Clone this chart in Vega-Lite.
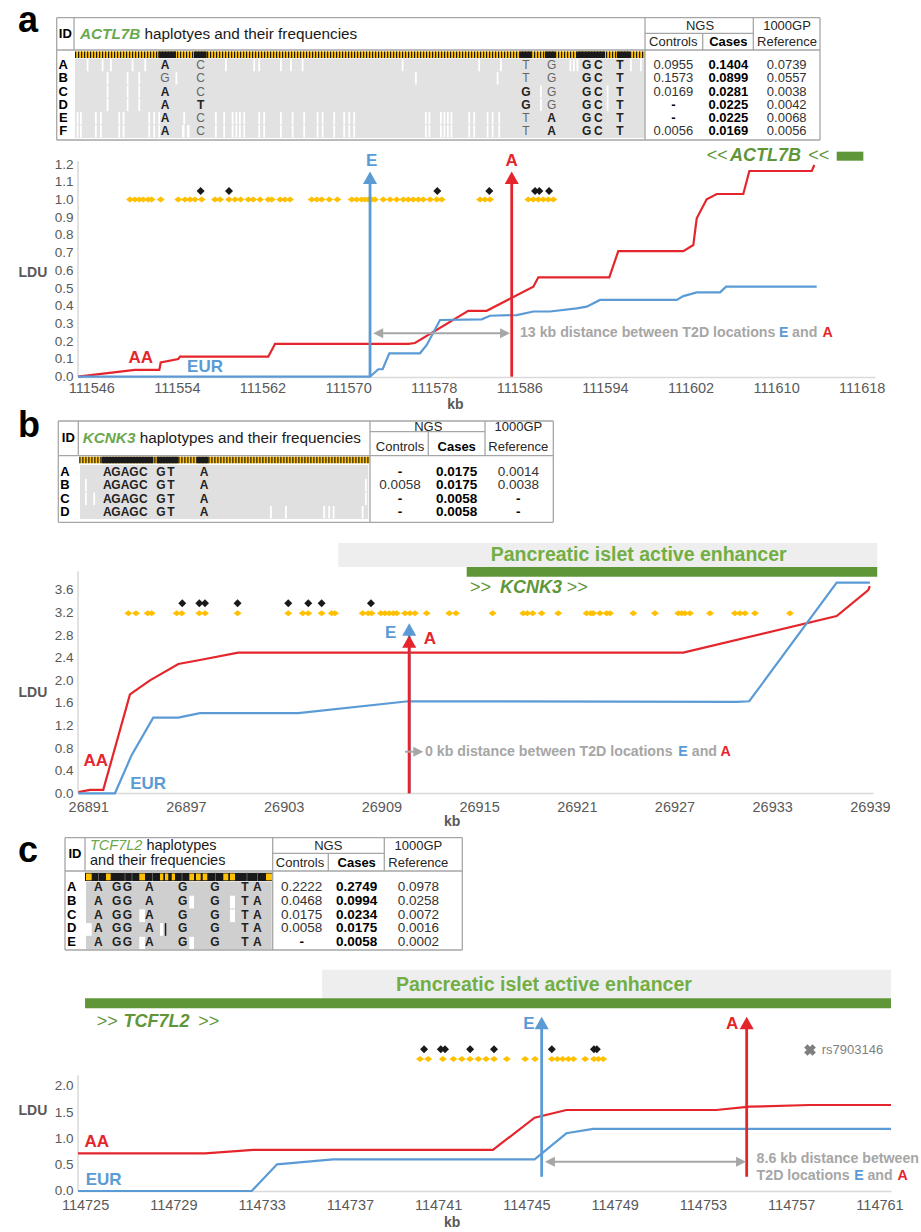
{
"$schema":"https://vega.github.io/schema/vega-lite/v6.json",
"background":"white",
"padding":{"left":18,"top":0,"right":0,"bottom":0},
"config":{"view":{"stroke":null},"font":"Liberation Sans","axis":{"grid":false,"labelFont":"Liberation Sans","titleFont":"Liberation Sans"}},
"columns":1,
"align":"none",
"bounds":"full",
"spacing":-5,
"concat":[
{
"width":810,"height":148,
"encoding":{"x":{"field":"x","type":"quantitative","scale":{"domain":[78,888],"nice":false,"zero":false},"axis":null},"y":{"field":"y","type":"quantitative","scale":{"domain":[0,148],"nice":false,"zero":false,"reverse":true},"axis":null}},
"layer":[
{"data":{"name":"tA_rect"},"transform":[{"filter":"datum.k=='gray'"}],"mark":{"type":"rect","color":"#e2e2e2"},"encoding":{"x2":{"field":"x2"},"y2":{"field":"y2"}}},
{"data":{"name":"tA_rect"},"transform":[{"filter":"datum.k=='w'"}],"mark":{"type":"rect","color":"#ffffff"},"encoding":{"x2":{"field":"x2"},"y2":{"field":"y2"}}},
{"data":{"name":"tA_rect"},"transform":[{"filter":"datum.k=='or'"}],"mark":{"type":"rect","color":"#ffc000"},"encoding":{"x2":{"field":"x2"},"y2":{"field":"y2"}}},
{"data":{"name":"tA_rule"},"transform":[{"filter":"datum.k=='dash'"}],"mark":{"type":"rule","color":"#1a1a1a","strokeWidth":6.5,"strokeDash":[1.2,1.8]},"encoding":{"x2":{"field":"x2"},"y2":{"field":"y2"}}},
{"data":{"name":"tA_rect"},"transform":[{"filter":"datum.k=='bk'"}],"mark":{"type":"rect","color":"#1a1a1a"},"encoding":{"x2":{"field":"x2"},"y2":{"field":"y2"}}},
{"data":{"name":"tA_rule"},"transform":[{"filter":"datum.k=='b'"}],"mark":{"type":"rule","color":"#a6a6a6","strokeWidth":1.3},"encoding":{"x2":{"field":"x2"},"y2":{"field":"y2"}}},
{"data":{"name":"tA_text"},"transform":[{"filter":"datum.k=='letter'"}],"mark":{"type":"text","fontSize":36,"fontWeight":"bold","align":"left","baseline":"alphabetic","color":"#000000"},"encoding":{"text":{"field":"t"}}},
{"data":{"name":"tA_text"},"transform":[{"filter":"datum.k=='gene'"}],"mark":{"type":"text","fontSize":15.3,"fontWeight":"bold","fontStyle":"italic","align":"left","color":"#6aa84f"},"encoding":{"text":{"field":"t"}}},
{"data":{"name":"tA_text"},"transform":[{"filter":"datum.k=='title'"}],"mark":{"type":"text","fontSize":15.3,"align":"left","color":"#1a1a1a"},"encoding":{"text":{"field":"t"}}},
{"data":{"name":"tA_text"},"transform":[{"filter":"datum.k=='r13'"}],"mark":{"type":"text","fontSize":13,"color":"#262626"},"encoding":{"text":{"field":"t"}}},
{"data":{"name":"tA_text"},"transform":[{"filter":"datum.k=='b13'"}],"mark":{"type":"text","fontSize":13,"fontWeight":"bold","color":"#000000"},"encoding":{"text":{"field":"t"}}},
{"data":{"name":"tA_text"},"transform":[{"filter":"datum.k=='row'"}],"mark":{"type":"text","fontSize":13,"fontWeight":"bold","color":"#000000"},"encoding":{"text":{"field":"t"}}},
{"data":{"name":"tA_text"},"transform":[{"filter":"datum.k=='r135'"}],"mark":{"type":"text","fontSize":13,"color":"#333333"},"encoding":{"text":{"field":"t"}}},
{"data":{"name":"tA_text"},"transform":[{"filter":"datum.k=='b135'"}],"mark":{"type":"text","fontSize":13,"fontWeight":"bold","color":"#000000"},"encoding":{"text":{"field":"t"}}},
{"data":{"name":"tA_text"},"transform":[{"filter":"datum.k=='ab'"}],"mark":{"type":"text","fontSize":12,"fontWeight":"bold","color":"#222222"},"encoding":{"text":{"field":"t"}}},
{"data":{"name":"tA_text"},"transform":[{"filter":"datum.k=='ar'"}],"mark":{"type":"text","fontSize":12,"color":"#666666"},"encoding":{"text":{"field":"t"}}}
]
},
{
"width":797,"height":270,
"encoding":{
"x":{"field":"kb","type":"quantitative","scale":{"domain":[111544.76,111619.24],"nice":false,"zero":false},"axis":{"values":[111546,111554,111562,111570,111578,111586,111594,111602,111610,111618],"format":"d","offset":-36,"ticks":false,"domainColor":"#d9d9d9","domainWidth":1.5,"labelPadding":4,"labelFontSize":14.5,"labelColor":"#595959","labelFlush":false,"labelOverlap":false,"title":"kb","titleFontSize":14,"titleFontWeight":"bold","titleColor":"#595959","titlePadding":2.5,"titleX":377}},
"y":{"field":"v","type":"quantitative","scale":{"domain":[-0.2049,1.3189],"nice":false,"zero":false},"axis":{"values":[0,0.1,0.2,0.3,0.4,0.5,0.6,0.7,0.8,0.9,1.0,1.1,1.2],"format":".1f","domain":false,"ticks":false,"labelPadding":5,"labelFontSize":13.5,"labelColor":"#595959","labelOverlap":false,"title":"LDU","titleAngle":0,"titleAlign":"left","titleBaseline":"middle","titleX":-60,"titleY":129,"titleFontSize":14,"titleFontWeight":"bold","titleColor":"#595959"}}
},
"layer":[
{"data":{"name":"cA_rect"},"transform":[{"filter":"datum.k=='bar'"}],"mark":{"type":"rect","color":"#5f9638"},"encoding":{"x2":{"field":"kb2"},"y2":{"field":"v2"}}},
{"data":{"name":"cA_vr"},"transform":[{"filter":"datum.k=='axis'"}],"mark":{"type":"rule","color":"#d9d9d9","strokeWidth":1.5},"encoding":{"y2":{"field":"v2"}}},
{"data":{"name":"cA_line"},"transform":[{"filter":"datum.s=='AA'"}],"mark":{"type":"line","color":"#e4262c","strokeWidth":2.2},"encoding":{}},
{"data":{"name":"cA_line"},"transform":[{"filter":"datum.s=='EUR'"}],"mark":{"type":"line","color":"#5b9bd5","strokeWidth":2.2},"encoding":{}},
{"data":{"name":"cA_o"},"mark":{"type":"point","shape":"M-1,0L0,-0.75L1,0L0,0.75Z","filled":true,"size":64,"color":"#ffc000","opacity":1},"encoding":{}},
{"data":{"name":"cA_b"},"mark":{"type":"point","shape":"M-1,0L0,-1L1,0L0,1Z","filled":true,"size":64,"color":"#1a1a1a","opacity":1},"encoding":{}},
{"data":{"name":"cA_vr"},"transform":[{"filter":"datum.k=='E'"}],"mark":{"type":"rule","color":"#5b9bd5","strokeWidth":2.8},"encoding":{"y2":{"field":"v2"}}},
{"data":{"name":"cA_vr"},"transform":[{"filter":"datum.k=='A'"}],"mark":{"type":"rule","color":"#e4262c","strokeWidth":2.8},"encoding":{"y2":{"field":"v2"}}},
{"data":{"name":"cA_hd"},"transform":[{"filter":"datum.k=='E'"}],"mark":{"type":"point","shape":"M0,-1L0.9,0.6L-0.9,0.6Z","filled":true,"size":243,"color":"#5b9bd5","opacity":1},"encoding":{}},
{"data":{"name":"cA_hd"},"transform":[{"filter":"datum.k=='A'"}],"mark":{"type":"point","shape":"M0,-1L0.9,0.6L-0.9,0.6Z","filled":true,"size":243,"color":"#e4262c","opacity":1},"encoding":{}},
{"data":{"name":"cA_hr"},"mark":{"type":"rule","color":"#a6a6a6","strokeWidth":2},"encoding":{"x2":{"field":"kb2"}}},
{"data":{"name":"cA_hd"},"transform":[{"filter":"datum.k=='L'"}],"mark":{"type":"point","shape":"M-1,0L0.6,-0.8L0.6,0.8Z","filled":true,"size":156,"color":"#a6a6a6","opacity":1},"encoding":{}},
{"data":{"name":"cA_hd"},"transform":[{"filter":"datum.k=='R'"}],"mark":{"type":"point","shape":"M1,0L-0.6,-0.8L-0.6,0.8Z","filled":true,"size":156,"color":"#a6a6a6","opacity":1},"encoding":{}},
{"data":{"name":"cA_text"},"transform":[{"filter":"datum.k=='gene'"}],"mark":{"type":"text","fontSize":18,"fontWeight":"bold","fontStyle":"italic","align":"left","color":"#5f9638"},"encoding":{"text":{"field":"t"}}},
{"data":{"name":"cA_text"},"transform":[{"filter":"datum.k=='geneArr'"}],"mark":{"type":"text","fontSize":18,"align":"left","color":"#5f9638"},"encoding":{"text":{"field":"t"}}},
{"data":{"name":"cA_text"},"transform":[{"filter":"datum.k=='lblR'"}],"mark":{"type":"text","fontSize":17,"fontWeight":"bold","color":"#e4262c"},"encoding":{"text":{"field":"t"}}},
{"data":{"name":"cA_text"},"transform":[{"filter":"datum.k=='lblB'"}],"mark":{"type":"text","fontSize":17,"fontWeight":"bold","color":"#5b9bd5"},"encoding":{"text":{"field":"t"}}},
{"data":{"name":"cA_text"},"transform":[{"filter":"datum.k=='g'"}],"mark":{"type":"text","fontSize":14.2,"fontWeight":"bold","align":"left","color":"#a6a6a6"},"encoding":{"text":{"field":"t"}}},
{"data":{"name":"cA_text"},"transform":[{"filter":"datum.k=='gB'"}],"mark":{"type":"text","fontSize":14.2,"fontWeight":"bold","align":"left","color":"#5b9bd5"},"encoding":{"text":{"field":"t"}}},
{"data":{"name":"cA_text"},"transform":[{"filter":"datum.k=='gR'"}],"mark":{"type":"text","fontSize":14.2,"fontWeight":"bold","align":"left","color":"#e4262c"},"encoding":{"text":{"field":"t"}}}
]
},
{
"width":810,"height":122,
"encoding":{"x":{"field":"x","type":"quantitative","scale":{"domain":[78,888],"nice":false,"zero":false},"axis":null},"y":{"field":"y","type":"quantitative","scale":{"domain":[408,530],"nice":false,"zero":false,"reverse":true},"axis":null}},
"layer":[
{"data":{"name":"tB_rect"},"transform":[{"filter":"datum.k=='gray'"}],"mark":{"type":"rect","color":"#e0e0e0"},"encoding":{"x2":{"field":"x2"},"y2":{"field":"y2"}}},
{"data":{"name":"tB_rect"},"transform":[{"filter":"datum.k=='w'"}],"mark":{"type":"rect","color":"#ffffff"},"encoding":{"x2":{"field":"x2"},"y2":{"field":"y2"}}},
{"data":{"name":"tB_rect"},"transform":[{"filter":"datum.k=='or'"}],"mark":{"type":"rect","color":"#ffc000"},"encoding":{"x2":{"field":"x2"},"y2":{"field":"y2"}}},
{"data":{"name":"tB_rule"},"transform":[{"filter":"datum.k=='dash'"}],"mark":{"type":"rule","color":"#1a1a1a","strokeWidth":6.6,"strokeDash":[1.2,1.8]},"encoding":{"x2":{"field":"x2"},"y2":{"field":"y2"}}},
{"data":{"name":"tB_rect"},"transform":[{"filter":"datum.k=='bk'"}],"mark":{"type":"rect","color":"#1a1a1a"},"encoding":{"x2":{"field":"x2"},"y2":{"field":"y2"}}},
{"data":{"name":"tB_rule"},"transform":[{"filter":"datum.k=='b'"}],"mark":{"type":"rule","color":"#a6a6a6","strokeWidth":1.3},"encoding":{"x2":{"field":"x2"},"y2":{"field":"y2"}}},
{"data":{"name":"tB_text"},"transform":[{"filter":"datum.k=='letter'"}],"mark":{"type":"text","fontSize":36,"fontWeight":"bold","align":"left","baseline":"alphabetic","color":"#000000"},"encoding":{"text":{"field":"t"}}},
{"data":{"name":"tB_text"},"transform":[{"filter":"datum.k=='gene'"}],"mark":{"type":"text","fontSize":15.3,"fontWeight":"bold","fontStyle":"italic","align":"left","color":"#6aa84f"},"encoding":{"text":{"field":"t"}}},
{"data":{"name":"tB_text"},"transform":[{"filter":"datum.k=='title'"}],"mark":{"type":"text","fontSize":15.3,"align":"left","color":"#1a1a1a"},"encoding":{"text":{"field":"t"}}},
{"data":{"name":"tB_text"},"transform":[{"filter":"datum.k=='r13'"}],"mark":{"type":"text","fontSize":13,"color":"#262626"},"encoding":{"text":{"field":"t"}}},
{"data":{"name":"tB_text"},"transform":[{"filter":"datum.k=='b13'"}],"mark":{"type":"text","fontSize":13,"fontWeight":"bold","color":"#000000"},"encoding":{"text":{"field":"t"}}},
{"data":{"name":"tB_text"},"transform":[{"filter":"datum.k=='row'"}],"mark":{"type":"text","fontSize":13,"fontWeight":"bold","color":"#000000"},"encoding":{"text":{"field":"t"}}},
{"data":{"name":"tB_text"},"transform":[{"filter":"datum.k=='r135'"}],"mark":{"type":"text","fontSize":13.5,"color":"#333333"},"encoding":{"text":{"field":"t"}}},
{"data":{"name":"tB_text"},"transform":[{"filter":"datum.k=='b135'"}],"mark":{"type":"text","fontSize":13.5,"fontWeight":"bold","color":"#000000"},"encoding":{"text":{"field":"t"}}},
{"data":{"name":"tB_text"},"transform":[{"filter":"datum.k=='ab'"}],"mark":{"type":"text","fontSize":12,"fontWeight":"bold","color":"#222222"},"encoding":{"text":{"field":"t"}}}
]
},
{
"width":795,"height":308,
"encoding":{
"x":{"field":"kb","type":"quantitative","scale":{"domain":[26890.37,26939.19],"nice":false,"zero":false},"axis":{"values":[26891,26897,26903,26909,26915,26921,26927,26933,26939],"format":"d","offset":-40,"ticks":false,"domainColor":"#d9d9d9","domainWidth":1.5,"labelPadding":7,"labelFontSize":14.5,"labelColor":"#595959","labelFlush":false,"labelOverlap":false,"title":"kb","titleFontSize":14,"titleFontWeight":"bold","titleColor":"#595959","titlePadding":1,"titleX":373.7}},
"y":{"field":"v","type":"quantitative","scale":{"domain":[-0.703,4.751],"nice":false,"zero":false},"axis":{"values":[0,0.4,0.8,1.2,1.6,2.0,2.4,2.8,3.2,3.6],"format":".1f","domain":false,"ticks":false,"labelPadding":5,"labelFontSize":13.5,"labelColor":"#595959","labelOverlap":false,"title":"LDU","titleAngle":0,"titleAlign":"left","titleBaseline":"middle","titleX":-60,"titleY":167,"titleFontSize":14,"titleFontWeight":"bold","titleColor":"#595959"}}
},
"layer":[
{"data":{"name":"cB_rect"},"transform":[{"filter":"datum.k=='enh'"}],"mark":{"type":"rect","color":"#eeeeee"},"encoding":{"x2":{"field":"kb2"},"y2":{"field":"v2"}}},
{"data":{"name":"cB_rect"},"transform":[{"filter":"datum.k=='bar'"}],"mark":{"type":"rect","color":"#5f9638"},"encoding":{"x2":{"field":"kb2"},"y2":{"field":"v2"}}},
{"data":{"name":"cB_vr"},"transform":[{"filter":"datum.k=='axis'"}],"mark":{"type":"rule","color":"#d9d9d9","strokeWidth":1.5},"encoding":{"y2":{"field":"v2"}}},
{"data":{"name":"cB_line"},"transform":[{"filter":"datum.s=='AA'"}],"mark":{"type":"line","color":"#e4262c","strokeWidth":2.2},"encoding":{}},
{"data":{"name":"cB_line"},"transform":[{"filter":"datum.s=='EUR'"}],"mark":{"type":"line","color":"#5b9bd5","strokeWidth":2.2},"encoding":{}},
{"data":{"name":"cB_o"},"mark":{"type":"point","shape":"M-1,0L0,-0.75L1,0L0,0.75Z","filled":true,"size":64,"color":"#ffc000","opacity":1},"encoding":{}},
{"data":{"name":"cB_b"},"mark":{"type":"point","shape":"M-1,0L0,-1L1,0L0,1Z","filled":true,"size":64,"color":"#1a1a1a","opacity":1},"encoding":{}},
{"data":{"name":"cB_vr"},"transform":[{"filter":"datum.k=='E'"}],"mark":{"type":"rule","color":"#5b9bd5","strokeWidth":2.8},"encoding":{"y2":{"field":"v2"}}},
{"data":{"name":"cB_vr"},"transform":[{"filter":"datum.k=='A'"}],"mark":{"type":"rule","color":"#e4262c","strokeWidth":2.8},"encoding":{"y2":{"field":"v2"}}},
{"data":{"name":"cB_hd"},"transform":[{"filter":"datum.k=='E'"}],"mark":{"type":"point","shape":"M0,-1L0.9,0.6L-0.9,0.6Z","filled":true,"size":243,"color":"#5b9bd5","opacity":1},"encoding":{}},
{"data":{"name":"cB_hd"},"transform":[{"filter":"datum.k=='A'"}],"mark":{"type":"point","shape":"M0,-1L0.9,0.6L-0.9,0.6Z","filled":true,"size":243,"color":"#e4262c","opacity":1},"encoding":{}},
{"data":{"name":"cB_hr"},"mark":{"type":"rule","color":"#a6a6a6","strokeWidth":2},"encoding":{"x2":{"field":"kb2"}}},
{"data":{"name":"cB_hd"},"transform":[{"filter":"datum.k=='R'"}],"mark":{"type":"point","shape":"M1,0L-0.6,-0.8L-0.6,0.8Z","filled":true,"size":156,"color":"#a6a6a6","opacity":1},"encoding":{}},
{"data":{"name":"cB_text"},"transform":[{"filter":"datum.k=='enh'"}],"mark":{"type":"text","fontSize":19.5,"fontWeight":"bold","color":"#72ae44"},"encoding":{"text":{"field":"t"}}},
{"data":{"name":"cB_text"},"transform":[{"filter":"datum.k=='gene'"}],"mark":{"type":"text","fontSize":18,"fontWeight":"bold","fontStyle":"italic","align":"left","color":"#5f9638"},"encoding":{"text":{"field":"t"}}},
{"data":{"name":"cB_text"},"transform":[{"filter":"datum.k=='geneArr'"}],"mark":{"type":"text","fontSize":18,"align":"left","color":"#5f9638"},"encoding":{"text":{"field":"t"}}},
{"data":{"name":"cB_text"},"transform":[{"filter":"datum.k=='lblR'"}],"mark":{"type":"text","fontSize":17,"fontWeight":"bold","color":"#e4262c"},"encoding":{"text":{"field":"t"}}},
{"data":{"name":"cB_text"},"transform":[{"filter":"datum.k=='lblB'"}],"mark":{"type":"text","fontSize":17,"fontWeight":"bold","color":"#5b9bd5"},"encoding":{"text":{"field":"t"}}},
{"data":{"name":"cB_text"},"transform":[{"filter":"datum.k=='g'"}],"mark":{"type":"text","fontSize":14.2,"fontWeight":"bold","align":"left","color":"#a6a6a6"},"encoding":{"text":{"field":"t"}}},
{"data":{"name":"cB_text"},"transform":[{"filter":"datum.k=='gB'"}],"mark":{"type":"text","fontSize":14.2,"fontWeight":"bold","align":"left","color":"#5b9bd5"},"encoding":{"text":{"field":"t"}}},
{"data":{"name":"cB_text"},"transform":[{"filter":"datum.k=='gR'"}],"mark":{"type":"text","fontSize":14.2,"fontWeight":"bold","align":"left","color":"#e4262c"},"encoding":{"text":{"field":"t"}}}
]
},
{
"width":810,"height":132,
"encoding":{"x":{"field":"x","type":"quantitative","scale":{"domain":[78,888],"nice":false,"zero":false},"axis":null},"y":{"field":"y","type":"quantitative","scale":{"domain":[828,960],"nice":false,"zero":false,"reverse":true},"axis":null}},
"layer":[
{"data":{"name":"tC_rect"},"transform":[{"filter":"datum.k=='gray'"}],"mark":{"type":"rect","color":"#cfcfcf"},"encoding":{"x2":{"field":"x2"},"y2":{"field":"y2"}}},
{"data":{"name":"tC_rect"},"transform":[{"filter":"datum.k=='w'"}],"mark":{"type":"rect","color":"#ffffff"},"encoding":{"x2":{"field":"x2"},"y2":{"field":"y2"}}},
{"data":{"name":"tC_rect"},"transform":[{"filter":"datum.k=='bk'"}],"mark":{"type":"rect","color":"#1a1a1a"},"encoding":{"x2":{"field":"x2"},"y2":{"field":"y2"}}},
{"data":{"name":"tC_rect"},"transform":[{"filter":"datum.k=='or'"}],"mark":{"type":"rect","color":"#ffc000"},"encoding":{"x2":{"field":"x2"},"y2":{"field":"y2"}}},
{"data":{"name":"tC_rule"},"transform":[{"filter":"datum.k=='sep'"}],"mark":{"type":"rule","color":"#6e6e6e","strokeWidth":0.8},"encoding":{"x2":{"field":"x2"},"y2":{"field":"y2"}}},
{"data":{"name":"tC_rule"},"transform":[{"filter":"datum.k=='b'"}],"mark":{"type":"rule","color":"#a6a6a6","strokeWidth":1.3},"encoding":{"x2":{"field":"x2"},"y2":{"field":"y2"}}},
{"data":{"name":"tC_text"},"transform":[{"filter":"datum.k=='letter'"}],"mark":{"type":"text","fontSize":36,"fontWeight":"bold","align":"left","baseline":"alphabetic","color":"#000000"},"encoding":{"text":{"field":"t"}}},
{"data":{"name":"tC_text"},"transform":[{"filter":"datum.k=='geneI'"}],"mark":{"type":"text","fontSize":14.5,"fontStyle":"italic","align":"left","color":"#6aa84f"},"encoding":{"text":{"field":"t"}}},
{"data":{"name":"tC_text"},"transform":[{"filter":"datum.k=='title'"}],"mark":{"type":"text","fontSize":14.5,"align":"left","color":"#1a1a1a"},"encoding":{"text":{"field":"t"}}},
{"data":{"name":"tC_text"},"transform":[{"filter":"datum.k=='r13'"}],"mark":{"type":"text","fontSize":13,"color":"#262626"},"encoding":{"text":{"field":"t"}}},
{"data":{"name":"tC_text"},"transform":[{"filter":"datum.k=='b13'"}],"mark":{"type":"text","fontSize":13,"fontWeight":"bold","color":"#000000"},"encoding":{"text":{"field":"t"}}},
{"data":{"name":"tC_text"},"transform":[{"filter":"datum.k=='row'"}],"mark":{"type":"text","fontSize":13,"fontWeight":"bold","color":"#000000"},"encoding":{"text":{"field":"t"}}},
{"data":{"name":"tC_text"},"transform":[{"filter":"datum.k=='r135'"}],"mark":{"type":"text","fontSize":13.5,"color":"#333333"},"encoding":{"text":{"field":"t"}}},
{"data":{"name":"tC_text"},"transform":[{"filter":"datum.k=='b135'"}],"mark":{"type":"text","fontSize":13.5,"fontWeight":"bold","color":"#000000"},"encoding":{"text":{"field":"t"}}},
{"data":{"name":"tC_text"},"transform":[{"filter":"datum.k=='ab'"}],"mark":{"type":"text","fontSize":12,"fontWeight":"bold","color":"#222222"},"encoding":{"text":{"field":"t"}}}
]
},
{
"width":813,"height":277,
"encoding":{
"x":{"field":"kb","type":"quantitative","scale":{"domain":[114724.68,114761.52],"nice":false,"zero":false},"axis":{"values":[114725,114729,114733,114737,114741,114745,114749,114753,114757,114761],"format":"d","offset":-41,"ticks":false,"domainColor":"#d9d9d9","domainWidth":1.5,"labelPadding":7,"labelFontSize":14.5,"labelColor":"#595959","labelFlush":false,"labelOverlap":false,"title":"kb","titleFontSize":14,"titleFontWeight":"bold","titleColor":"#595959","titlePadding":3.5,"titleX":373.7}},
"y":{"field":"v","type":"quantitative","scale":{"domain":[-0.779,4.482],"nice":false,"zero":false},"axis":{"values":[0,0.5,1.0,1.5,2.0],"format":".1f","domain":false,"ticks":false,"labelPadding":5,"labelFontSize":13.5,"labelColor":"#595959","labelOverlap":false,"title":"LDU","titleAngle":0,"titleAlign":"left","titleBaseline":"middle","titleX":-60,"titleY":155,"titleFontSize":14,"titleFontWeight":"bold","titleColor":"#595959"}}
},
"layer":[
{"data":{"name":"cC_rect"},"transform":[{"filter":"datum.k=='enh'"}],"mark":{"type":"rect","color":"#eeeeee"},"encoding":{"x2":{"field":"kb2"},"y2":{"field":"v2"}}},
{"data":{"name":"cC_rect"},"transform":[{"filter":"datum.k=='bar'"}],"mark":{"type":"rect","color":"#5f9638"},"encoding":{"x2":{"field":"kb2"},"y2":{"field":"v2"}}},
{"data":{"name":"cC_vr"},"transform":[{"filter":"datum.k=='axis'"}],"mark":{"type":"rule","color":"#d9d9d9","strokeWidth":1.5},"encoding":{"y2":{"field":"v2"}}},
{"data":{"name":"cC_line"},"transform":[{"filter":"datum.s=='AA'"}],"mark":{"type":"line","color":"#e4262c","strokeWidth":2.2},"encoding":{}},
{"data":{"name":"cC_line"},"transform":[{"filter":"datum.s=='EUR'"}],"mark":{"type":"line","color":"#5b9bd5","strokeWidth":2.2},"encoding":{}},
{"data":{"name":"cC_o"},"mark":{"type":"point","shape":"M-1,0L0,-0.75L1,0L0,0.75Z","filled":true,"size":64,"color":"#ffc000","opacity":1},"encoding":{}},
{"data":{"name":"cC_b"},"mark":{"type":"point","shape":"M-1,0L0,-1L1,0L0,1Z","filled":true,"size":64,"color":"#1a1a1a","opacity":1},"encoding":{}},
{"data":{"name":"cC_vr"},"transform":[{"filter":"datum.k=='E'"}],"mark":{"type":"rule","color":"#5b9bd5","strokeWidth":2.8},"encoding":{"y2":{"field":"v2"}}},
{"data":{"name":"cC_vr"},"transform":[{"filter":"datum.k=='A'"}],"mark":{"type":"rule","color":"#e4262c","strokeWidth":2.8},"encoding":{"y2":{"field":"v2"}}},
{"data":{"name":"cC_hd"},"transform":[{"filter":"datum.k=='E'"}],"mark":{"type":"point","shape":"M0,-1L0.9,0.6L-0.9,0.6Z","filled":true,"size":243,"color":"#5b9bd5","opacity":1},"encoding":{}},
{"data":{"name":"cC_hd"},"transform":[{"filter":"datum.k=='A'"}],"mark":{"type":"point","shape":"M0,-1L0.9,0.6L-0.9,0.6Z","filled":true,"size":243,"color":"#e4262c","opacity":1},"encoding":{}},
{"data":{"name":"cC_hr"},"mark":{"type":"rule","color":"#a6a6a6","strokeWidth":2},"encoding":{"x2":{"field":"kb2"}}},
{"data":{"name":"cC_hd"},"transform":[{"filter":"datum.k=='L'"}],"mark":{"type":"point","shape":"M-1,0L0.6,-0.8L0.6,0.8Z","filled":true,"size":156,"color":"#a6a6a6","opacity":1},"encoding":{}},
{"data":{"name":"cC_hd"},"transform":[{"filter":"datum.k=='R'"}],"mark":{"type":"point","shape":"M1,0L-0.6,-0.8L-0.6,0.8Z","filled":true,"size":156,"color":"#a6a6a6","opacity":1},"encoding":{}},
{"data":{"name":"cC_x"},"mark":{"type":"point","shape":"cross","angle":45,"filled":true,"size":140,"color":"#7f7f7f","opacity":1},"encoding":{}},
{"data":{"name":"cC_text"},"transform":[{"filter":"datum.k=='enh'"}],"mark":{"type":"text","fontSize":19.5,"fontWeight":"bold","color":"#72ae44"},"encoding":{"text":{"field":"t"}}},
{"data":{"name":"cC_text"},"transform":[{"filter":"datum.k=='gene'"}],"mark":{"type":"text","fontSize":18,"fontWeight":"bold","fontStyle":"italic","align":"left","color":"#5f9638"},"encoding":{"text":{"field":"t"}}},
{"data":{"name":"cC_text"},"transform":[{"filter":"datum.k=='geneArr'"}],"mark":{"type":"text","fontSize":18,"align":"left","color":"#5f9638"},"encoding":{"text":{"field":"t"}}},
{"data":{"name":"cC_text"},"transform":[{"filter":"datum.k=='lblR'"}],"mark":{"type":"text","fontSize":17,"fontWeight":"bold","color":"#e4262c"},"encoding":{"text":{"field":"t"}}},
{"data":{"name":"cC_text"},"transform":[{"filter":"datum.k=='lblB'"}],"mark":{"type":"text","fontSize":17,"fontWeight":"bold","color":"#5b9bd5"},"encoding":{"text":{"field":"t"}}},
{"data":{"name":"cC_text"},"transform":[{"filter":"datum.k=='g'"}],"mark":{"type":"text","fontSize":14.2,"fontWeight":"bold","align":"left","color":"#a6a6a6"},"encoding":{"text":{"field":"t"}}},
{"data":{"name":"cC_text"},"transform":[{"filter":"datum.k=='gB'"}],"mark":{"type":"text","fontSize":14.2,"fontWeight":"bold","align":"left","color":"#5b9bd5"},"encoding":{"text":{"field":"t"}}},
{"data":{"name":"cC_text"},"transform":[{"filter":"datum.k=='gR'"}],"mark":{"type":"text","fontSize":14.2,"fontWeight":"bold","align":"left","color":"#e4262c"},"encoding":{"text":{"field":"t"}}},
{"data":{"name":"cC_text"},"transform":[{"filter":"datum.k=='rs'"}],"mark":{"type":"text","fontSize":13,"align":"left","color":"#7f7f7f"},"encoding":{"text":{"field":"t"}}}
]
}
],
"datasets":{
"tA_rect":[
{"k":"gray","x":75,"x2":645,"y":58.5,"y2":138},
{"k":"or","x":75,"x2":645,"y":51.5,"y2":58},
{"k":"bk","x":158.3,"x2":176,"y":51.5,"y2":58},
{"k":"bk","x":194,"x2":206.7,"y":51.5,"y2":58},
{"k":"bk","x":520,"x2":532,"y":51.5,"y2":58},
{"k":"bk","x":545,"x2":555,"y":51.5,"y2":58},
{"k":"bk","x":577,"x2":605,"y":51.5,"y2":58},
{"k":"bk","x":617,"x2":630,"y":51.5,"y2":58},
{"k":"w","x":86.7,"x2":88.5,"y":59,"y2":71.3},{"k":"w","x":101.7,"x2":103.5,"y":59,"y2":71.3},{"k":"w","x":110,"x2":111.8,"y":59,"y2":71.3},{"k":"w","x":131.7,"x2":133.5,"y":59,"y2":71.3},{"k":"w","x":144.3,"x2":146.1,"y":59,"y2":71.3},{"k":"w","x":225,"x2":226.8,"y":59,"y2":71.3},{"k":"w","x":253.3,"x2":255.1,"y":59,"y2":71.3},{"k":"w","x":258.3,"x2":260.1,"y":59,"y2":71.3},{"k":"w","x":280,"x2":281.8,"y":59,"y2":71.3},{"k":"w","x":290,"x2":291.8,"y":59,"y2":71.3},{"k":"w","x":301.7,"x2":303.5,"y":59,"y2":71.3},{"k":"w","x":401.7,"x2":403.5,"y":59,"y2":71.3},{"k":"w","x":478.3,"x2":480.1,"y":59,"y2":71.3},{"k":"w","x":500,"x2":501.8,"y":59,"y2":71.3},{"k":"w","x":569.5,"x2":571.3,"y":59,"y2":71.3},{"k":"w","x":573,"x2":574.8,"y":59,"y2":71.3},{"k":"w","x":576.5,"x2":578.3,"y":59,"y2":71.3},{"k":"w","x":630,"x2":631.8,"y":59,"y2":71.3},{"k":"w","x":640,"x2":641.8,"y":59,"y2":71.3},
{"k":"w","x":106.7,"x2":108.5,"y":72.2,"y2":84.5},{"k":"w","x":126.7,"x2":128.5,"y":72.2,"y2":84.5},{"k":"w","x":138.3,"x2":140.1,"y":72.2,"y2":84.5},{"k":"w","x":175.5,"x2":177.3,"y":72.2,"y2":84.5},{"k":"w","x":415,"x2":416.8,"y":72.2,"y2":84.5},{"k":"w","x":496.7,"x2":498.5,"y":72.2,"y2":84.5},
{"k":"w","x":106.7,"x2":108.5,"y":85.5,"y2":97.8},{"k":"w","x":126.7,"x2":128.5,"y":85.5,"y2":97.8},{"k":"w","x":138.3,"x2":140.1,"y":85.5,"y2":97.8},{"k":"w","x":540,"x2":541.8,"y":85.5,"y2":97.8},{"k":"w","x":606.7,"x2":608.5,"y":85.5,"y2":97.8},
{"k":"w","x":106.7,"x2":108.5,"y":98.7,"y2":111},{"k":"w","x":126.7,"x2":128.5,"y":98.7,"y2":111},{"k":"w","x":138.3,"x2":140.1,"y":98.7,"y2":111},{"k":"w","x":540,"x2":541.8,"y":98.7,"y2":111},{"k":"w","x":606.7,"x2":608.5,"y":98.7,"y2":111},
{"k":"w","x":76.7,"x2":78.5,"y":112,"y2":124.3},{"k":"w","x":80,"x2":81.8,"y":112,"y2":124.3},{"k":"w","x":95,"x2":96.8,"y":112,"y2":124.3},{"k":"w","x":100,"x2":101.8,"y":112,"y2":124.3},{"k":"w","x":118.3,"x2":120.1,"y":112,"y2":124.3},{"k":"w","x":122.7,"x2":124.5,"y":112,"y2":124.3},{"k":"w","x":148.3,"x2":150.1,"y":112,"y2":124.3},{"k":"w","x":153.3,"x2":155.1,"y":112,"y2":124.3},{"k":"w","x":158.3,"x2":160.1,"y":112,"y2":124.3},{"k":"w","x":183.3,"x2":185.1,"y":112,"y2":124.3},{"k":"w","x":215,"x2":216.8,"y":112,"y2":124.3},{"k":"w","x":223.3,"x2":225.1,"y":112,"y2":124.3},{"k":"w","x":231.7,"x2":233.5,"y":112,"y2":124.3},{"k":"w","x":235.5,"x2":237.3,"y":112,"y2":124.3},{"k":"w","x":239,"x2":240.8,"y":112,"y2":124.3},{"k":"w","x":243.3,"x2":245.1,"y":112,"y2":124.3},{"k":"w","x":258.3,"x2":260.1,"y":112,"y2":124.3},{"k":"w","x":263.3,"x2":265.1,"y":112,"y2":124.3},{"k":"w","x":280,"x2":281.8,"y":112,"y2":124.3},{"k":"w","x":291.7,"x2":293.5,"y":112,"y2":124.3},{"k":"w","x":303.3,"x2":305.1,"y":112,"y2":124.3},{"k":"w","x":316.7,"x2":318.5,"y":112,"y2":124.3},{"k":"w","x":321.7,"x2":323.5,"y":112,"y2":124.3},{"k":"w","x":333.3,"x2":335.1,"y":112,"y2":124.3},{"k":"w","x":343.3,"x2":345.1,"y":112,"y2":124.3},{"k":"w","x":348.3,"x2":350.1,"y":112,"y2":124.3},{"k":"w","x":353.3,"x2":355.1,"y":112,"y2":124.3},{"k":"w","x":425,"x2":426.8,"y":112,"y2":124.3},{"k":"w","x":428.5,"x2":430.3,"y":112,"y2":124.3},{"k":"w","x":440,"x2":441.8,"y":112,"y2":124.3},{"k":"w","x":443.5,"x2":445.3,"y":112,"y2":124.3},{"k":"w","x":447,"x2":448.8,"y":112,"y2":124.3},{"k":"w","x":450.5,"x2":452.3,"y":112,"y2":124.3},{"k":"w","x":468.3,"x2":470.1,"y":112,"y2":124.3},{"k":"w","x":473.3,"x2":475.1,"y":112,"y2":124.3},{"k":"w","x":486.7,"x2":488.5,"y":112,"y2":124.3},{"k":"w","x":491.7,"x2":493.5,"y":112,"y2":124.3},{"k":"w","x":498.3,"x2":500.1,"y":112,"y2":124.3},
{"k":"w","x":76.7,"x2":78.5,"y":125.2,"y2":137.5},{"k":"w","x":80,"x2":81.8,"y":125.2,"y2":137.5},{"k":"w","x":95,"x2":96.8,"y":125.2,"y2":137.5},{"k":"w","x":100,"x2":101.8,"y":125.2,"y2":137.5},{"k":"w","x":118.3,"x2":120.1,"y":125.2,"y2":137.5},{"k":"w","x":122.7,"x2":124.5,"y":125.2,"y2":137.5},{"k":"w","x":148.3,"x2":150.1,"y":125.2,"y2":137.5},{"k":"w","x":153.3,"x2":155.1,"y":125.2,"y2":137.5},{"k":"w","x":158.3,"x2":160.1,"y":125.2,"y2":137.5},{"k":"w","x":182,"x2":184.5,"y":125.2,"y2":137.5},{"k":"w","x":187,"x2":189.5,"y":125.2,"y2":137.5},{"k":"w","x":215,"x2":216.8,"y":125.2,"y2":137.5},{"k":"w","x":223.3,"x2":225.1,"y":125.2,"y2":137.5},{"k":"w","x":231.7,"x2":233.5,"y":125.2,"y2":137.5},{"k":"w","x":235.5,"x2":237.3,"y":125.2,"y2":137.5},{"k":"w","x":239,"x2":240.8,"y":125.2,"y2":137.5},{"k":"w","x":243.3,"x2":245.1,"y":125.2,"y2":137.5},{"k":"w","x":258.3,"x2":260.1,"y":125.2,"y2":137.5},{"k":"w","x":263.3,"x2":265.1,"y":125.2,"y2":137.5},{"k":"w","x":280,"x2":281.8,"y":125.2,"y2":137.5},{"k":"w","x":291.7,"x2":293.5,"y":125.2,"y2":137.5},{"k":"w","x":303.3,"x2":305.1,"y":125.2,"y2":137.5},{"k":"w","x":316.7,"x2":318.5,"y":125.2,"y2":137.5},{"k":"w","x":321.7,"x2":323.5,"y":125.2,"y2":137.5},{"k":"w","x":333.3,"x2":335.1,"y":125.2,"y2":137.5},{"k":"w","x":343.3,"x2":345.1,"y":125.2,"y2":137.5},{"k":"w","x":348.3,"x2":350.1,"y":125.2,"y2":137.5},{"k":"w","x":353.3,"x2":355.1,"y":125.2,"y2":137.5},{"k":"w","x":425,"x2":426.8,"y":125.2,"y2":137.5},{"k":"w","x":428.5,"x2":430.3,"y":125.2,"y2":137.5},{"k":"w","x":440,"x2":441.8,"y":125.2,"y2":137.5},{"k":"w","x":443.5,"x2":445.3,"y":125.2,"y2":137.5},{"k":"w","x":447,"x2":448.8,"y":125.2,"y2":137.5},{"k":"w","x":450.5,"x2":452.3,"y":125.2,"y2":137.5},{"k":"w","x":468.3,"x2":470.1,"y":125.2,"y2":137.5},{"k":"w","x":473.3,"x2":475.1,"y":125.2,"y2":137.5},{"k":"w","x":486.7,"x2":488.5,"y":125.2,"y2":137.5},{"k":"w","x":491.7,"x2":493.5,"y":125.2,"y2":137.5},{"k":"w","x":498.3,"x2":500.1,"y":125.2,"y2":137.5}
],
"tA_rule":[
{"k":"dash","x":75,"x2":645,"y":54.75,"y2":54.75},
{"k":"b","x":56.7,"x2":820,"y":17.7,"y2":17.7},
{"k":"b","x":56.7,"x2":820,"y":140,"y2":140},
{"k":"b","x":56.7,"x2":56.7,"y":17.7,"y2":140},
{"k":"b","x":820,"x2":820,"y":17.7,"y2":140},
{"k":"b","x":74,"x2":74,"y":17.7,"y2":50},
{"k":"b","x":56.7,"x2":820,"y":50,"y2":50},
{"k":"b","x":645,"x2":645,"y":17.7,"y2":140},
{"k":"b","x":753.3,"x2":753.3,"y":17.7,"y2":50},
{"k":"b","x":645,"x2":753.3,"y":33.3,"y2":33.3},
{"k":"b","x":702.7,"x2":702.7,"y":33.3,"y2":50}
],
"tA_text":[
{"k":"letter","x":18,"y":32,"t":"a"},
{"k":"b13","x":65.3,"y":34,"t":"ID"},
{"k":"gene","x":80,"y":34,"t":"ACTL7B"},
{"k":"title","x":144.6,"y":34,"t":"haplotyes and their frequencies"},
{"k":"r13","x":700,"y":26,"t":"NGS"},
{"k":"r13","x":673.3,"y":42,"t":"Controls"},
{"k":"b13","x":728.3,"y":42,"t":"Cases"},
{"k":"r13","x":787,"y":26,"t":"1000GP"},
{"k":"r13","x":787,"y":42,"t":"Reference"},
{"k":"row","x":63.3,"y":65.1,"t":"A"},{"k":"row","x":63.3,"y":78.4,"t":"B"},{"k":"row","x":63.3,"y":91.6,"t":"C"},{"k":"row","x":63.3,"y":104.9,"t":"D"},{"k":"row","x":63.3,"y":118.1,"t":"E"},{"k":"row","x":63.3,"y":131.4,"t":"F"},
{"k":"ab","x":165,"y":65.1,"t":"A"},{"k":"ar","x":200.7,"y":65.1,"t":"C"},{"k":"ar","x":526,"y":65.1,"t":"T"},{"k":"ar","x":551.7,"y":65.1,"t":"G"},{"k":"ab","x":586.7,"y":65.1,"t":"G"},{"k":"ab","x":598.3,"y":65.1,"t":"C"},{"k":"ab","x":620,"y":65.1,"t":"T"},
{"k":"ar","x":165,"y":78.4,"t":"G"},{"k":"ar","x":200.7,"y":78.4,"t":"C"},{"k":"ar","x":526,"y":78.4,"t":"T"},{"k":"ar","x":551.7,"y":78.4,"t":"G"},{"k":"ab","x":586.7,"y":78.4,"t":"G"},{"k":"ab","x":598.3,"y":78.4,"t":"C"},{"k":"ab","x":620,"y":78.4,"t":"T"},
{"k":"ab","x":165,"y":91.6,"t":"A"},{"k":"ar","x":200.7,"y":91.6,"t":"C"},{"k":"ab","x":526,"y":91.6,"t":"G"},{"k":"ar","x":551.7,"y":91.6,"t":"G"},{"k":"ab","x":586.7,"y":91.6,"t":"G"},{"k":"ab","x":598.3,"y":91.6,"t":"C"},{"k":"ab","x":620,"y":91.6,"t":"T"},
{"k":"ab","x":165,"y":104.9,"t":"A"},{"k":"ab","x":200.7,"y":104.9,"t":"T"},{"k":"ab","x":526,"y":104.9,"t":"G"},{"k":"ar","x":551.7,"y":104.9,"t":"G"},{"k":"ab","x":586.7,"y":104.9,"t":"G"},{"k":"ab","x":598.3,"y":104.9,"t":"C"},{"k":"ab","x":620,"y":104.9,"t":"T"},
{"k":"ab","x":165,"y":118.1,"t":"A"},{"k":"ar","x":200.7,"y":118.1,"t":"C"},{"k":"ar","x":526,"y":118.1,"t":"T"},{"k":"ab","x":551.7,"y":118.1,"t":"A"},{"k":"ab","x":586.7,"y":118.1,"t":"G"},{"k":"ab","x":598.3,"y":118.1,"t":"C"},{"k":"ab","x":620,"y":118.1,"t":"T"},
{"k":"ab","x":165,"y":131.4,"t":"A"},{"k":"ar","x":200.7,"y":131.4,"t":"C"},{"k":"ar","x":526,"y":131.4,"t":"T"},{"k":"ab","x":551.7,"y":131.4,"t":"A"},{"k":"ab","x":586.7,"y":131.4,"t":"G"},{"k":"ab","x":598.3,"y":131.4,"t":"C"},{"k":"ab","x":620,"y":131.4,"t":"T"},
{"k":"r135","x":673.3,"y":65.1,"t":"0.0955"},{"k":"b135","x":728.3,"y":65.1,"t":"0.1404"},{"k":"r135","x":786.7,"y":65.1,"t":"0.0739"},
{"k":"r135","x":673.3,"y":78.4,"t":"0.1573"},{"k":"b135","x":728.3,"y":78.4,"t":"0.0899"},{"k":"r135","x":786.7,"y":78.4,"t":"0.0557"},
{"k":"r135","x":673.3,"y":91.6,"t":"0.0169"},{"k":"b135","x":728.3,"y":91.6,"t":"0.0281"},{"k":"r135","x":786.7,"y":91.6,"t":"0.0038"},
{"k":"b135","x":673.3,"y":104.9,"t":"-"},{"k":"b135","x":728.3,"y":104.9,"t":"0.0225"},{"k":"r135","x":786.7,"y":104.9,"t":"0.0042"},
{"k":"b135","x":673.3,"y":118.1,"t":"-"},{"k":"b135","x":728.3,"y":118.1,"t":"0.0225"},{"k":"r135","x":786.7,"y":118.1,"t":"0.0068"},
{"k":"r135","x":673.3,"y":131.4,"t":"0.0056"},{"k":"b135","x":728.3,"y":131.4,"t":"0.0169"},{"k":"r135","x":786.7,"y":131.4,"t":"0.0056"}
],
"tB_rect":[
{"k":"gray","x":80,"x2":368.3,"y":465,"y2":519},
{"k":"or","x":79.3,"x2":370,"y":456.7,"y2":463.3},
{"k":"bk","x":101.7,"x2":153.3,"y":456.7,"y2":463.3},
{"k":"bk","x":156.7,"x2":178.3,"y":456.7,"y2":463.3},
{"k":"bk","x":196.7,"x2":208.3,"y":456.7,"y2":463.3},
{"k":"w","x":85,"x2":86.8,"y":479,"y2":491.5},{"k":"w","x":365,"x2":366.8,"y":479,"y2":491.5},
{"k":"w","x":85,"x2":86.8,"y":492.5,"y2":505},{"k":"w","x":93.3,"x2":95.1,"y":492.5,"y2":505},{"k":"w","x":365,"x2":366.8,"y":492.5,"y2":505},
{"k":"w","x":270,"x2":271.8,"y":506,"y2":518.5},{"k":"w","x":285,"x2":286.8,"y":506,"y2":518.5},{"k":"w","x":323.3,"x2":325.1,"y":506,"y2":518.5},{"k":"w","x":328.3,"x2":330.1,"y":506,"y2":518.5},{"k":"w","x":332.7,"x2":334.5,"y":506,"y2":518.5},{"k":"w","x":361.7,"x2":363.5,"y":506,"y2":518.5}
],
"tB_rule":[
{"k":"dash","x":79.3,"x2":370,"y":460,"y2":460},
{"k":"b","x":58.3,"x2":553.3,"y":421,"y2":421},
{"k":"b","x":58.3,"x2":553.3,"y":522.3,"y2":522.3},
{"k":"b","x":58.3,"x2":58.3,"y":421,"y2":522.3},
{"k":"b","x":553.3,"x2":553.3,"y":421,"y2":522.3},
{"k":"b","x":78.3,"x2":78.3,"y":421,"y2":455.7},
{"k":"b","x":58.3,"x2":553.3,"y":455.7,"y2":455.7},
{"k":"b","x":370,"x2":370,"y":421,"y2":522.3},
{"k":"b","x":485,"x2":485,"y":421,"y2":455.7},
{"k":"b","x":370,"x2":485,"y":431.7,"y2":431.7},
{"k":"b","x":428.3,"x2":428.3,"y":431.7,"y2":455.7}
],
"tB_text":[
{"k":"letter","x":18,"y":437,"t":"b"},
{"k":"b13","x":68.3,"y":438.3,"t":"ID"},
{"k":"gene","x":82.7,"y":438.3,"t":"KCNK3"},
{"k":"title","x":139.7,"y":438.3,"t":"haplotypes and their frequencies"},
{"k":"r13","x":428.3,"y":426.7,"t":"NGS"},
{"k":"r13","x":400,"y":446.7,"t":"Controls"},
{"k":"b13","x":456.7,"y":446.7,"t":"Cases"},
{"k":"r13","x":518.3,"y":426.7,"t":"1000GP"},
{"k":"r13","x":518.3,"y":446.7,"t":"Reference"},
{"k":"row","x":65,"y":471.75,"t":"A"},{"k":"row","x":65,"y":485.25,"t":"B"},{"k":"row","x":65,"y":498.75,"t":"C"},{"k":"row","x":65,"y":512.25,"t":"D"},
{"k":"ab","x":107.3,"y":471.75,"t":"A"},{"k":"ab","x":116,"y":471.75,"t":"G"},{"k":"ab","x":125,"y":471.75,"t":"A"},{"k":"ab","x":134,"y":471.75,"t":"G"},{"k":"ab","x":143.3,"y":471.75,"t":"C"},{"k":"ab","x":161,"y":471.75,"t":"G"},{"k":"ab","x":171,"y":471.75,"t":"T"},{"k":"ab","x":204,"y":471.75,"t":"A"},
{"k":"ab","x":107.3,"y":485.25,"t":"A"},{"k":"ab","x":116,"y":485.25,"t":"G"},{"k":"ab","x":125,"y":485.25,"t":"A"},{"k":"ab","x":134,"y":485.25,"t":"G"},{"k":"ab","x":143.3,"y":485.25,"t":"C"},{"k":"ab","x":161,"y":485.25,"t":"G"},{"k":"ab","x":171,"y":485.25,"t":"T"},{"k":"ab","x":204,"y":485.25,"t":"A"},
{"k":"ab","x":107.3,"y":498.75,"t":"A"},{"k":"ab","x":116,"y":498.75,"t":"G"},{"k":"ab","x":125,"y":498.75,"t":"A"},{"k":"ab","x":134,"y":498.75,"t":"G"},{"k":"ab","x":143.3,"y":498.75,"t":"C"},{"k":"ab","x":161,"y":498.75,"t":"G"},{"k":"ab","x":171,"y":498.75,"t":"T"},{"k":"ab","x":204,"y":498.75,"t":"A"},
{"k":"ab","x":107.3,"y":512.25,"t":"A"},{"k":"ab","x":116,"y":512.25,"t":"G"},{"k":"ab","x":125,"y":512.25,"t":"A"},{"k":"ab","x":134,"y":512.25,"t":"G"},{"k":"ab","x":143.3,"y":512.25,"t":"C"},{"k":"ab","x":161,"y":512.25,"t":"G"},{"k":"ab","x":171,"y":512.25,"t":"T"},{"k":"ab","x":204,"y":512.25,"t":"A"},
{"k":"b135","x":400,"y":471.75,"t":"-"},{"k":"b135","x":456.7,"y":471.75,"t":"0.0175"},{"k":"r135","x":518.3,"y":471.75,"t":"0.0014"},
{"k":"r135","x":400,"y":485.25,"t":"0.0058"},{"k":"b135","x":456.7,"y":485.25,"t":"0.0175"},{"k":"r135","x":518.3,"y":485.25,"t":"0.0038"},
{"k":"b135","x":400,"y":498.75,"t":"-"},{"k":"b135","x":456.7,"y":498.75,"t":"0.0058"},{"k":"b135","x":518.3,"y":498.75,"t":"-"},
{"k":"b135","x":400,"y":512.25,"t":"-"},{"k":"b135","x":456.7,"y":512.25,"t":"0.0058"},{"k":"b135","x":518.3,"y":512.25,"t":"-"}
],
"tC_rect":[
{"k":"gray","x":86,"x2":271.7,"y":881.5,"y2":949.5},
{"k":"bk","x":85,"x2":272.7,"y":872.7,"y2":881},
{"k":"or","x":86,"x2":91.7,"y":873.5,"y2":880.3},{"k":"or","x":106,"x2":110.7,"y":873.5,"y2":880.3},{"k":"or","x":139.3,"x2":145,"y":873.5,"y2":880.3},{"k":"or","x":160,"x2":163.3,"y":873.5,"y2":880.3},{"k":"or","x":165,"x2":168.3,"y":873.5,"y2":880.3},{"k":"or","x":171.7,"x2":175,"y":873.5,"y2":880.3},{"k":"or","x":189.3,"x2":194,"y":873.5,"y2":880.3},{"k":"or","x":196,"x2":200.7,"y":873.5,"y2":880.3},{"k":"or","x":202.7,"x2":207.3,"y":873.5,"y2":880.3},{"k":"or","x":223.3,"x2":228.3,"y":873.5,"y2":880.3},{"k":"or","x":230,"x2":235,"y":873.5,"y2":880.3},{"k":"or","x":266,"x2":272.7,"y":873.5,"y2":880.3},
{"k":"w","x":189.3,"x2":194,"y":895.7,"y2":908.4},{"k":"w","x":230,"x2":235,"y":895.7,"y2":908.4},
{"k":"w","x":139.3,"x2":145,"y":909.4,"y2":922.1},{"k":"w","x":230,"x2":235,"y":909.4,"y2":922.1},
{"k":"w","x":86,"x2":91.7,"y":923.1,"y2":935.8},{"k":"w","x":160,"x2":163.3,"y":923.1,"y2":935.8},{"k":"bk","x":164.8,"x2":166.3,"y":923.1,"y2":935.8},
{"k":"w","x":139.3,"x2":145,"y":936.8,"y2":949.5},{"k":"w","x":189.3,"x2":194,"y":936.8,"y2":949.5}
],
"tC_rule":[
{"k":"sep","x":98.5,"x2":98.5,"y":872.7,"y2":881},{"k":"sep","x":125,"x2":125,"y":872.7,"y2":881},{"k":"sep","x":132,"x2":132,"y":872.7,"y2":881},{"k":"sep","x":152.5,"x2":152.5,"y":872.7,"y2":881},{"k":"sep","x":182,"x2":182,"y":872.7,"y2":881},{"k":"sep","x":215.5,"x2":215.5,"y":872.7,"y2":881},{"k":"sep","x":247,"x2":247,"y":872.7,"y2":881},{"k":"sep","x":257.5,"x2":257.5,"y":872.7,"y2":881},
{"k":"b","x":65,"x2":462.3,"y":837.7,"y2":837.7},
{"k":"b","x":65,"x2":462.3,"y":950,"y2":950},
{"k":"b","x":65,"x2":65,"y":837.7,"y2":950},
{"k":"b","x":462.3,"x2":462.3,"y":837.7,"y2":950},
{"k":"b","x":85,"x2":85,"y":837.7,"y2":871},
{"k":"b","x":65,"x2":462.3,"y":871,"y2":871},
{"k":"b","x":272.7,"x2":272.7,"y":837.7,"y2":950},
{"k":"b","x":384.3,"x2":384.3,"y":837.7,"y2":871},
{"k":"b","x":272.7,"x2":384.3,"y":853.3,"y2":853.3},
{"k":"b","x":328.3,"x2":328.3,"y":853.3,"y2":871}
],
"tC_text":[
{"k":"letter","x":18,"y":862,"t":"c"},
{"k":"b13","x":75,"y":854,"t":"ID"},
{"k":"geneI","x":90,"y":846,"t":"TCF7L2"},
{"k":"title","x":146.4,"y":846,"t":"haplotypes"},
{"k":"title","x":90,"y":860.5,"t":"and their frequencies"},
{"k":"r13","x":328.3,"y":846,"t":"NGS"},
{"k":"r13","x":300,"y":863.3,"t":"Controls"},
{"k":"b13","x":356.7,"y":863.3,"t":"Cases"},
{"k":"r13","x":418.3,"y":846,"t":"1000GP"},
{"k":"r13","x":418.3,"y":863.3,"t":"Reference"},
{"k":"row","x":71.7,"y":887.3,"t":"A"},{"k":"row","x":71.7,"y":901,"t":"B"},{"k":"row","x":71.7,"y":914.7,"t":"C"},{"k":"row","x":71.7,"y":928.4,"t":"D"},{"k":"row","x":71.7,"y":942.1,"t":"E"},
{"k":"ab","x":98.3,"y":887.3,"t":"A"},{"k":"ab","x":116.7,"y":887.3,"t":"G"},{"k":"ab","x":127.3,"y":887.3,"t":"G"},{"k":"ab","x":149.3,"y":887.3,"t":"A"},{"k":"ab","x":182.7,"y":887.3,"t":"G"},{"k":"ab","x":215,"y":887.3,"t":"G"},{"k":"ab","x":245,"y":887.3,"t":"T"},{"k":"ab","x":257.3,"y":887.3,"t":"A"},
{"k":"ab","x":98.3,"y":901,"t":"A"},{"k":"ab","x":116.7,"y":901,"t":"G"},{"k":"ab","x":127.3,"y":901,"t":"G"},{"k":"ab","x":149.3,"y":901,"t":"A"},{"k":"ab","x":182.7,"y":901,"t":"G"},{"k":"ab","x":215,"y":901,"t":"G"},{"k":"ab","x":245,"y":901,"t":"T"},{"k":"ab","x":257.3,"y":901,"t":"A"},
{"k":"ab","x":98.3,"y":914.7,"t":"A"},{"k":"ab","x":116.7,"y":914.7,"t":"G"},{"k":"ab","x":127.3,"y":914.7,"t":"G"},{"k":"ab","x":149.3,"y":914.7,"t":"A"},{"k":"ab","x":182.7,"y":914.7,"t":"G"},{"k":"ab","x":215,"y":914.7,"t":"G"},{"k":"ab","x":245,"y":914.7,"t":"T"},{"k":"ab","x":257.3,"y":914.7,"t":"A"},
{"k":"ab","x":98.3,"y":928.4,"t":"A"},{"k":"ab","x":116.7,"y":928.4,"t":"G"},{"k":"ab","x":127.3,"y":928.4,"t":"G"},{"k":"ab","x":149.3,"y":928.4,"t":"A"},{"k":"ab","x":182.7,"y":928.4,"t":"G"},{"k":"ab","x":215,"y":928.4,"t":"G"},{"k":"ab","x":245,"y":928.4,"t":"T"},{"k":"ab","x":257.3,"y":928.4,"t":"A"},
{"k":"ab","x":98.3,"y":942.1,"t":"A"},{"k":"ab","x":116.7,"y":942.1,"t":"G"},{"k":"ab","x":127.3,"y":942.1,"t":"G"},{"k":"ab","x":149.3,"y":942.1,"t":"A"},{"k":"ab","x":182.7,"y":942.1,"t":"G"},{"k":"ab","x":215,"y":942.1,"t":"G"},{"k":"ab","x":245,"y":942.1,"t":"T"},{"k":"ab","x":257.3,"y":942.1,"t":"A"},
{"k":"r135","x":301.7,"y":887.3,"t":"0.2222"},{"k":"b135","x":356.7,"y":887.3,"t":"0.2749"},{"k":"r135","x":418.3,"y":887.3,"t":"0.0978"},
{"k":"r135","x":301.7,"y":901,"t":"0.0468"},{"k":"b135","x":356.7,"y":901,"t":"0.0994"},{"k":"r135","x":418.3,"y":901,"t":"0.0258"},
{"k":"r135","x":301.7,"y":914.7,"t":"0.0175"},{"k":"b135","x":356.7,"y":914.7,"t":"0.0234"},{"k":"r135","x":418.3,"y":914.7,"t":"0.0072"},
{"k":"r135","x":301.7,"y":928.4,"t":"0.0058"},{"k":"b135","x":356.7,"y":928.4,"t":"0.0175"},{"k":"r135","x":418.3,"y":928.4,"t":"0.0016"},
{"k":"b135","x":301.7,"y":942.1,"t":"-"},{"k":"b135","x":356.7,"y":942.1,"t":"0.0058"},{"k":"r135","x":418.3,"y":942.1,"t":"0.0002"}
],
"cA_line":[
{"s":"AA","kb":111544.76,"v":0},{"s":"AA","kb":111550.08,"v":0.038},{"s":"AA","kb":111552.36,"v":0.038},{"s":"AA","kb":111552.49,"v":0.08},{"s":"AA","kb":111554.13,"v":0.10},{"s":"AA","kb":111554.29,"v":0.113},{"s":"AA","kb":111562.54,"v":0.113},{"s":"AA","kb":111563.17,"v":0.185},{"s":"AA","kb":111575.63,"v":0.185},{"s":"AA","kb":111576.25,"v":0.19},{"s":"AA","kb":111581.23,"v":0.372},{"s":"AA","kb":111582.95,"v":0.372},{"s":"AA","kb":111587.31,"v":0.508},{"s":"AA","kb":111587.78,"v":0.561},{"s":"AA","kb":111594.41,"v":0.561},{"s":"AA","kb":111595.25,"v":0.709},{"s":"AA","kb":111601.33,"v":0.709},{"s":"AA","kb":111602.26,"v":0.743},{"s":"AA","kb":111602.58,"v":0.894},{"s":"AA","kb":111603.51,"v":1.001},{"s":"AA","kb":111604.45,"v":1.031},{"s":"AA","kb":111606.93,"v":1.031},{"s":"AA","kb":111607.50,"v":1.161},{"s":"AA","kb":111613.33,"v":1.161},{"s":"AA","kb":111613.57,"v":1.195},
{"s":"EUR","kb":111544.76,"v":0},{"s":"EUR","kb":111572.05,"v":0},{"s":"EUR","kb":111572.82,"v":0.042},{"s":"EUR","kb":111573.23,"v":0.042},{"s":"EUR","kb":111573.85,"v":0.132},{"s":"EUR","kb":111576.72,"v":0.132},{"s":"EUR","kb":111577.35,"v":0.179},{"s":"EUR","kb":111578.59,"v":0.32},{"s":"EUR","kb":111582.49,"v":0.324},{"s":"EUR","kb":111583.26,"v":0.344},{"s":"EUR","kb":111585.76,"v":0.348},{"s":"EUR","kb":111587.31,"v":0.368},{"s":"EUR","kb":111588.87,"v":0.368},{"s":"EUR","kb":111591.36,"v":0.386},{"s":"EUR","kb":111592.30,"v":0.395},{"s":"EUR","kb":111593.54,"v":0.433},{"s":"EUR","kb":111600.71,"v":0.433},{"s":"EUR","kb":111601.33,"v":0.455},{"s":"EUR","kb":111602.58,"v":0.476},{"s":"EUR","kb":111604.76,"v":0.476},{"s":"EUR","kb":111605.32,"v":0.508},{"s":"EUR","kb":111613.79,"v":0.508}
],
"cA_o":[
{"kb":111549.62,"v":1},{"kb":111550.08,"v":1},{"kb":111550.49,"v":1},{"kb":111550.86,"v":1},{"kb":111551.33,"v":1},{"kb":111551.64,"v":1},{"kb":111552.49,"v":1},{"kb":111554.13,"v":1},{"kb":111554.76,"v":1},{"kb":111555.22,"v":1},{"kb":111555.69,"v":1},{"kb":111556.32,"v":1},{"kb":111557.56,"v":1},{"kb":111558.03,"v":1},{"kb":111558.87,"v":1},{"kb":111559.43,"v":1},{"kb":111559.96,"v":1},{"kb":111560.67,"v":1},{"kb":111561.14,"v":1},{"kb":111561.77,"v":1},{"kb":111562.54,"v":1},{"kb":111562.86,"v":1},{"kb":111563.64,"v":1},{"kb":111564.10,"v":1},{"kb":111564.57,"v":1},{"kb":111566.60,"v":1},{"kb":111567.07,"v":1},{"kb":111567.53,"v":1},{"kb":111568.24,"v":1},{"kb":111568.99,"v":1},{"kb":111570.34,"v":1},{"kb":111570.80,"v":1},{"kb":111571.27,"v":1},{"kb":111571.58,"v":1},{"kb":111571.89,"v":1},{"kb":111572.21,"v":1},{"kb":111572.51,"v":1},{"kb":111573.29,"v":1},{"kb":111573.92,"v":1},{"kb":111574.54,"v":1},{"kb":111575.16,"v":1},{"kb":111575.63,"v":1},{"kb":111576.09,"v":1},{"kb":111576.56,"v":1},{"kb":111577.03,"v":1},{"kb":111577.66,"v":1},{"kb":111578.28,"v":1},{"kb":111578.75,"v":1},{"kb":111582.33,"v":1},{"kb":111582.79,"v":1},{"kb":111583.26,"v":1},{"kb":111586.84,"v":1},{"kb":111587.31,"v":1},{"kb":111587.78,"v":1},{"kb":111588.24,"v":1},{"kb":111588.71,"v":1},{"kb":111589.18,"v":1}
],
"cA_b":[
{"kb":111556.22,"v":1.048},{"kb":111558.87,"v":1.048},{"kb":111578.34,"v":1.048},{"kb":111583.20,"v":1.048},{"kb":111587.47,"v":1.048},{"kb":111587.87,"v":1.048},{"kb":111588.78,"v":1.048}
],
"cA_vr":[
{"k":"axis","kb":111544.76,"v":0,"v2":1.217},
{"k":"E","kb":111572.05,"v":0,"v2":1.10},
{"k":"A","kb":111585.29,"v":0,"v2":1.10}
],
"cA_hd":[
{"k":"E","kb":111572.05,"v":1.114},
{"k":"A","kb":111585.29,"v":1.114},
{"k":"L","kb":111572.93,"v":0.245},
{"k":"R","kb":111584.55,"v":0.245}
],
"cA_hr":[{"kb":111572.9,"kb2":111584.6,"v":0.245}],
"cA_rect":[{"k":"bar","kb":111615.66,"kb2":111618.15,"v":1.219,"v2":1.27}],
"cA_text":[
{"k":"lblB","kb":111572.2,"v":1.218,"t":"E"},
{"k":"lblR","kb":111585.29,"v":1.218,"t":"A"},
{"k":"lblR","kb":111550.63,"v":0.108,"t":"AA"},
{"k":"lblB","kb":111556.63,"v":0.056,"t":"EUR"},
{"k":"g","kb":111586.06,"v":0.247,"t":"13 kb distance between T2D locations"},
{"k":"gB","kb":111610.27,"v":0.247,"t":"E"},
{"k":"g","kb":111611.49,"v":0.247,"t":"and"},
{"k":"gR","kb":111614.34,"v":0.247,"t":"A"},
{"k":"geneArr","kb":111603.51,"v":1.245,"t":"<<"},
{"k":"gene","kb":111605.69,"v":1.245,"t":"ACTL7B"},
{"k":"geneArr","kb":111613.01,"v":1.245,"t":"<<"}
],
"cB_line":[
{"s":"AA","kb":26890.4,"v":0.02},{"s":"AA","kb":26891.10,"v":0.06},{"s":"AA","kb":26891.92,"v":0.06},{"s":"AA","kb":26893.56,"v":1.75},{"s":"AA","kb":26894.79,"v":2.0},{"s":"AA","kb":26896.53,"v":2.29},{"s":"AA","kb":26897.86,"v":2.36},{"s":"AA","kb":26900.21,"v":2.49},{"s":"AA","kb":26927.54,"v":2.49},{"s":"AA","kb":26936.96,"v":3.14},{"s":"AA","kb":26938.90,"v":3.60},{"s":"AA","kb":26939.0,"v":3.67},
{"s":"EUR","kb":26890.39,"v":0},{"s":"EUR","kb":26892.64,"v":0},{"s":"EUR","kb":26893.67,"v":0.68},{"s":"EUR","kb":26894.99,"v":1.34},{"s":"EUR","kb":26896.53,"v":1.34},{"s":"EUR","kb":26897.86,"v":1.42},{"s":"EUR","kb":26903.90,"v":1.42},{"s":"EUR","kb":26910.65,"v":1.63},{"s":"EUR","kb":26930.82,"v":1.62},{"s":"EUR","kb":26931.59,"v":1.63},{"s":"EUR","kb":26936.96,"v":3.73},{"s":"EUR","kb":26939.0,"v":3.73}
],
"cB_o":[
{"kb":26893.46,"v":3.19},{"kb":26893.93,"v":3.19},{"kb":26894.65,"v":3.19},{"kb":26894.89,"v":3.19},{"kb":26896.43,"v":3.19},{"kb":26896.74,"v":3.19},{"kb":26897.82,"v":3.19},{"kb":26898.17,"v":3.19},{"kb":26900.17,"v":3.19},{"kb":26903.28,"v":3.19},{"kb":26904.17,"v":3.19},{"kb":26904.51,"v":3.19},{"kb":26905.33,"v":3.19},{"kb":26905.95,"v":3.19},{"kb":26906.15,"v":3.19},{"kb":26907.85,"v":3.19},{"kb":26908.19,"v":3.19},{"kb":26908.40,"v":3.19},{"kb":26908.97,"v":3.19},{"kb":26909.22,"v":3.19},{"kb":26909.48,"v":3.19},{"kb":26909.73,"v":3.19},{"kb":26909.94,"v":3.19},{"kb":26910.45,"v":3.19},{"kb":26910.75,"v":3.19},{"kb":26911.06,"v":3.19},{"kb":26911.78,"v":3.19},{"kb":26913.17,"v":3.19},{"kb":26913.58,"v":3.19},{"kb":26915.83,"v":3.19},{"kb":26917.71,"v":3.19},{"kb":26917.96,"v":3.19},{"kb":26918.29,"v":3.19},{"kb":26918.84,"v":3.19},{"kb":26919.86,"v":3.19},{"kb":26921.60,"v":3.19},{"kb":26921.85,"v":3.19},{"kb":26922.01,"v":3.19},{"kb":26922.42,"v":3.19},{"kb":26922.83,"v":3.19},{"kb":26923.04,"v":3.19},{"kb":26924.47,"v":3.19},{"kb":26925.80,"v":3.19},{"kb":26927.23,"v":3.19},{"kb":26927.44,"v":3.19},{"kb":26927.64,"v":3.19},{"kb":26927.95,"v":3.19},{"kb":26929.18,"v":3.19},{"kb":26930.71,"v":3.19},{"kb":26931.02,"v":3.19},{"kb":26931.33,"v":3.19},{"kb":26931.94,"v":3.19},{"kb":26934.09,"v":3.19}
],
"cB_b":[
{"kb":26896.77,"v":3.365},{"kb":26897.82,"v":3.365},{"kb":26898.17,"v":3.365},{"kb":26900.17,"v":3.365},{"kb":26903.28,"v":3.365},{"kb":26904.51,"v":3.365},{"kb":26905.33,"v":3.365},{"kb":26908.36,"v":3.365}
],
"cB_vr":[
{"k":"axis","kb":26890.37,"v":0,"v2":3.93},
{"k":"E","kb":26910.71,"v":0,"v2":2.85},
{"k":"A","kb":26910.71,"v":0,"v2":2.65}
],
"cB_hd":[
{"k":"E","kb":26910.71,"v":2.872},
{"k":"A","kb":26910.71,"v":2.662},
{"k":"R","kb":26911.19,"v":0.737}
],
"cB_hr":[{"kb":26910.45,"kb2":26911.2,"v":0.737}],
"cB_rect":[
{"k":"enh","kb":26906.35,"kb2":26939.45,"v":4.007,"v2":4.432},
{"k":"bar","kb":26914.24,"kb2":26939.45,"v":3.836,"v2":4.007}
],
"cB_text":[
{"k":"lblB","kb":26909.57,"v":2.844,"t":"E"},
{"k":"lblR","kb":26911.98,"v":2.727,"t":"A"},
{"k":"lblR","kb":26891.46,"v":0.576,"t":"AA"},
{"k":"lblB","kb":26894.68,"v":0.165,"t":"EUR"},
{"k":"g","kb":26911.68,"v":0.737,"t":"0 kb distance between T2D locations"},
{"k":"gB","kb":26927.23,"v":0.737,"t":"E"},
{"k":"g","kb":26928.06,"v":0.737,"t":"and"},
{"k":"gR","kb":26929.83,"v":0.737,"t":"A"},
{"k":"enh","kb":26924.8,"v":4.22,"t":"Pancreatic islet active enhancer"},
{"k":"geneArr","kb":26914.44,"v":3.63,"t":">>"},
{"k":"gene","kb":26916.28,"v":3.63,"t":"KCNK3"},
{"k":"geneArr","kb":26920.38,"v":3.63,"t":">>"}
],
"cC_line":[
{"s":"AA","kb":114724.68,"v":0.716},{"s":"AA","kb":114730.44,"v":0.716},{"s":"AA","kb":114732.62,"v":0.779},{"s":"AA","kb":114743.48,"v":0.779},{"s":"AA","kb":114745.37,"v":1.392},{"s":"AA","kb":114746.81,"v":1.538},{"s":"AA","kb":114753.60,"v":1.538},{"s":"AA","kb":114755.11,"v":1.601},{"s":"AA","kb":114757.83,"v":1.633},{"s":"AA","kb":114761.52,"v":1.633},
{"s":"EUR","kb":114724.68,"v":0},{"s":"EUR","kb":114732.55,"v":0},{"s":"EUR","kb":114733.70,"v":0.507},{"s":"EUR","kb":114736.24,"v":0.602},{"s":"EUR","kb":114745.37,"v":0.602},{"s":"EUR","kb":114746.81,"v":1.096},{"s":"EUR","kb":114748.02,"v":1.178},{"s":"EUR","kb":114761.52,"v":1.178}
],
"cC_o":[
{"kb":114740.18,"v":2.507},{"kb":114740.55,"v":2.507},{"kb":114741.21,"v":2.507},{"kb":114741.69,"v":2.507},{"kb":114742.07,"v":2.507},{"kb":114742.44,"v":2.507},{"kb":114742.82,"v":2.507},{"kb":114743.17,"v":2.507},{"kb":114743.53,"v":2.507},{"kb":114744.11,"v":2.507},{"kb":114744.94,"v":2.507},{"kb":114745.39,"v":2.507},{"kb":114746.15,"v":2.507},{"kb":114746.40,"v":2.507},{"kb":114746.64,"v":2.507},{"kb":114746.90,"v":2.507},{"kb":114747.13,"v":2.507},{"kb":114747.66,"v":2.507},{"kb":114748.06,"v":2.507},{"kb":114748.26,"v":2.507},{"kb":114748.48,"v":2.507}
],
"cC_b":[
{"kb":114740.36,"v":2.69},{"kb":114741.12,"v":2.69},{"kb":114741.31,"v":2.69},{"kb":114742.45,"v":2.69},{"kb":114743.53,"v":2.69},{"kb":114746.15,"v":2.69},{"kb":114748.06,"v":2.69},{"kb":114748.19,"v":2.69}
],
"cC_vr":[
{"k":"axis","kb":114724.68,"v":0,"v2":2.2},
{"k":"E","kb":114745.69,"v":0.27,"v2":3.12},
{"k":"A","kb":114754.98,"v":0.27,"v2":3.12}
],
"cC_hd":[
{"k":"E","kb":114745.69,"v":3.162},
{"k":"A","kb":114754.98,"v":3.162},
{"k":"L","kb":114746.12,"v":0.556},
{"k":"R","kb":114754.67,"v":0.556}
],
"cC_hr":[{"kb":114746.1,"kb2":114754.7,"v":0.556}],
"cC_x":[{"kb":114757.85,"v":2.678}],
"cC_rect":[
{"k":"enh","kb":114735.74,"kb2":114761.52,"v":3.66,"v2":4.2},
{"k":"bar","kb":114725.0,"kb2":114761.52,"v":3.47,"v2":3.66}
],
"cC_text":[
{"k":"lblB","kb":114745.11,"v":3.18,"t":"E"},
{"k":"lblR","kb":114754.32,"v":3.18,"t":"A"},
{"k":"lblR","kb":114725.53,"v":0.921,"t":"AA"},
{"k":"lblB","kb":114725.84,"v":0.209,"t":"EUR"},
{"k":"g","kb":114755.43,"v":0.608,"t":"8.6 kb distance between"},
{"k":"g","kb":114755.43,"v":0.285,"t":"T2D locations"},
{"k":"gB","kb":114759.86,"v":0.285,"t":"E"},
{"k":"g","kb":114760.45,"v":0.285,"t":"and"},
{"k":"gR","kb":114761.81,"v":0.285,"t":"A"},
{"k":"enh","kb":114745.79,"v":3.913,"t":"Pancreatic islet active enhancer"},
{"k":"geneArr","kb":114725.53,"v":3.216,"t":">>"},
{"k":"gene","kb":114726.74,"v":3.216,"t":"TCF7L2"},
{"k":"geneArr","kb":114730.13,"v":3.216,"t":">>"},
{"k":"rs","kb":114758.38,"v":2.678,"t":"rs7903146"}
]
}
}
